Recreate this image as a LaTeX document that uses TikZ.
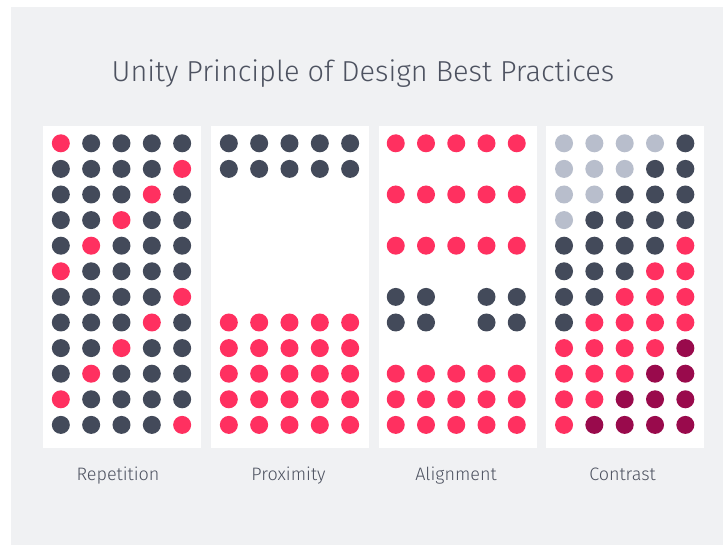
\documentclass[tikz,border=0pt]{standalone}
\usepackage{fontspec}
\setmainfont{Fira Sans}[UprightFont=* Light]

\definecolor{pagebg}{HTML}{F0F1F3}
\definecolor{inktext}{HTML}{4D5260}
\definecolor{dotred}{HTML}{FF3060}
\definecolor{dotdark}{HTML}{434A5A}
\definecolor{dotlight}{HTML}{B8BECC}
\definecolor{dotwine}{HTML}{990A4C}

\tikzset{
  dotR/.style={fill=dotred},
  dotD/.style={fill=dotdark},
  dotL/.style={fill=dotlight},
  dotM/.style={fill=dotwine},
  dotN/.style={fill=none},
  caption/.style={text=inktext, anchor=base, font=\fontsize{18}{18}\selectfont},
}

\begin{document}
\begin{tikzpicture}[x=1pt, y=-1pt]
  \useasboundingbox (0,0) rectangle (723,545);
  \fill[pagebg] (11,7) rectangle (723,545);

  \node[caption, font=\fontsize{28.9}{30}\selectfont] (title) at (363,81.7) {Unity Principle of Design Best Practices};

  % white cards
  \fill[white] (43,126.5) rectangle (201,448);
  \fill[white] (211,126.5) rectangle (369,448);
  \fill[white] (379,126.5) rectangle (537,448);
  \fill[white] (546,126.5) rectangle (704,448);

  % repetition
  \foreach \row [count=\r] in {{R,D,D,D,D},{D,D,D,D,R},{D,D,D,R,D},{D,D,R,D,D},
      {D,R,D,D,D},{R,D,D,D,D},{D,D,D,D,R},{D,D,D,R,D},{D,D,R,D,D},{D,R,D,D,D},
      {R,D,D,D,D},{D,D,D,D,R}}
    \foreach \c [count=\k] in \row
      \fill[dot\c] (30.33*\k+30.5, 25.6*\r+117.7) circle (9);

  % proximity
  \foreach \row [count=\r] in {{D,D,D,D,D},{D,D,D,D,D},{N,N,N,N,N},{N,N,N,N,N},
      {N,N,N,N,N},{N,N,N,N,N},{N,N,N,N,N},{R,R,R,R,R},{R,R,R,R,R},{R,R,R,R,R},
      {R,R,R,R,R},{R,R,R,R,R}}
    \foreach \c [count=\k] in \row
      \fill[dot\c] (30.33*\k+198.5, 25.6*\r+117.7) circle (9);

  % alignment
  \foreach \row [count=\r] in {{R,R,R,R,R},{N,N,N,N,N},{R,R,R,R,R},{N,N,N,N,N},
      {R,R,R,R,R},{N,N,N,N,N},{D,D,N,D,D},{D,D,N,D,D},{N,N,N,N,N},{R,R,R,R,R},
      {R,R,R,R,R},{R,R,R,R,R}}
    \foreach \c [count=\k] in \row
      \fill[dot\c] (30.25*\k+365.5, 25.6*\r+117.7) circle (9);

  % contrast
  \foreach \row [count=\r] in {{L,L,L,L,D},{L,L,L,D,D},{L,L,D,D,D},{L,D,D,D,D},
      {D,D,D,D,R},{D,D,D,R,R},{D,D,R,R,R},{D,R,R,R,R},{R,R,R,R,M},{R,R,R,M,M},
      {R,R,M,M,M},{R,M,M,M,M}}
    \foreach \c [count=\k] in \row
      \fill[dot\c] (30.33*\k+533.7, 25.6*\r+117.7) circle (9);

  \node[caption] (repetition) at (118,480) {Repetition};
  \node[caption] (proximity) at (288.5,480) {Proximity};
  \node[caption] (alignment) at (456,480) {Alignment};
  \node[caption] (contrast) at (622.5,480) {Contrast};
\end{tikzpicture}
\end{document}
